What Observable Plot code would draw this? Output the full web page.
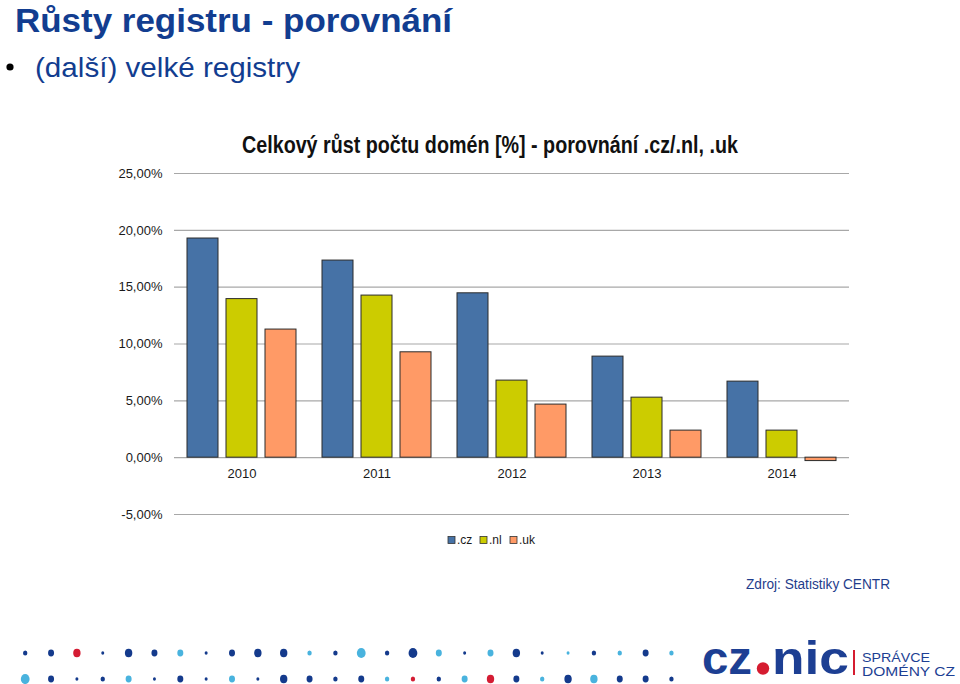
<!DOCTYPE html>
<html>
<head>
<meta charset="utf-8">
<script src="https://cdn.jsdelivr.net/npm/d3@7"></script>
<script src="https://cdn.jsdelivr.net/npm/@observablehq/plot@0.6"></script>
<style>
  html, body { margin: 0; padding: 0; background: #fff; }
  #page { position: relative; width: 960px; height: 684px; overflow: hidden; background: #fff; }
  #chart { position: absolute; left: 0; top: 0; width: 960px; height: 684px; }
  #deco { position: absolute; left: 0; top: 0; }
</style>
</head>
<body>
<div id="page">
  <div id="chart"></div>
  <svg id="deco" width="960" height="684" xmlns="http://www.w3.org/2000/svg"></svg>
</div>
<script>
// ---- data ----
const years = ["2010", "2011", "2012", "2013", "2014"];
const seriesNames = [".cz", ".nl", ".uk"];
const czValues = [19.28, 17.34, 14.46, 8.89, 6.69];
const nlValues = [13.95, 14.26, 6.78, 5.28, 2.38];
const ukValues = [11.27, 9.27, 4.67, 2.38, -0.30];
const yTicks = [-5, 0, 5, 10, 15, 20, 25];
const seriesColors = ["#4672a6", "#cccc00", "#ff9a66"];

const titleText = "Růsty registru - porovnání";
const bulletText = "(další) velké registry";
const chartTitle = "Celkový růst počtu domén [%] - porovnání .cz/.nl, .uk";
const sourceText = "Zdroj: Statistiky CENTR";

// decorative dot strip: size code + colour code
const dotRow1 = ["sd","md","lr","td","ld","md","mb","td","md","ld","ld","sb","sd","xb","sd","xd","mb","td","mb","ld","td","tb","sd","sb","md","sb"];
const dotRow2 = ["xb","md","td","sd","mb","td","md","td","mb","td","ld","md","sd","md","sb","sr","sd","mb","lr","md","sb","ld","lb","md","md","sd"];

// ---- chart ----
const valueSets = [czValues, nlValues, ukValues];
const rows = years.flatMap((yr, i) => seriesNames.map((s, j) => ({year: yr, series: s, value: valueSets[j][i]})));
const fmt = d => d.toFixed(2).replace(".", ",") + "%";
const narrow = "'Liberation Sans Narrow','Liberation Sans',Arial,sans-serif";

const chart = Plot.plot({
  width: 960,
  height: 684,
  marginLeft: 173,
  marginRight: 110,
  marginTop: 173,
  marginBottom: 170,
  style: {background: "transparent", fontFamily: narrow, fontSize: "13px", color: "#1a1a1a", overflow: "visible"},
  fx: {domain: years, padding: 0, axis: null},
  x: {domain: seriesNames, paddingInner: 0.2, paddingOuter: 0.29, axis: null},
  y: {domain: [-5, 25], axis: null},
  color: {domain: seriesNames, range: seriesColors},
  marks: [
    Plot.gridY(yTicks, {stroke: "#a8a8a8", strokeOpacity: 1, strokeWidth: 1.2}),
    Plot.axisY(yTicks, {tickSize: 0, tickPadding: 12, tickFormat: fmt, label: null, fontSize: 13, fill: "#1a1a1a"}),
    Plot.barY(rows, {fx: "year", x: "series", y: "value", fill: "series", stroke: "#2b2b2b", strokeWidth: 1}),
    Plot.text(years, {fx: d => d, y: 0, text: d => d, dy: 16, fontSize: 13, fill: "#1a1a1a"})
  ]
});
document.getElementById("chart").appendChild(chart);

// ---- decorations (titles, legend, source, logo, dots) ----
const deco = d3.select("#deco");
const blue = "#123d90";

deco.append("text").attr("x", 15).attr("y", 32)
  .attr("font-family", "'Liberation Sans',Arial,sans-serif").attr("font-weight", "bold")
  .attr("font-size", 34).attr("fill", blue)
  .attr("textLength", 437).attr("lengthAdjust", "spacingAndGlyphs").text(titleText);

deco.append("circle").attr("cx", 10).attr("cy", 67).attr("r", 3.6).attr("fill", "#000");
deco.append("text").attr("x", 35).attr("y", 77)
  .attr("font-family", "'Liberation Sans',Arial,sans-serif")
  .attr("font-size", 28).attr("fill", blue)
  .attr("textLength", 265).attr("lengthAdjust", "spacingAndGlyphs").text(bulletText);

deco.append("text").attr("x", 242).attr("y", 153)
  .attr("font-family", narrow).attr("font-weight", "bold")
  .attr("font-size", 23).attr("fill", "#111")
  .attr("textLength", 496).attr("lengthAdjust", "spacingAndGlyphs").text(chartTitle);

// legend
const legX = [448, 480, 510];
seriesNames.forEach((s, i) => {
  deco.append("rect").attr("x", legX[i]).attr("y", 536.5).attr("width", 7).attr("height", 7)
    .attr("fill", seriesColors[i]).attr("stroke", "#333").attr("stroke-width", 0.8);
  deco.append("text").attr("x", legX[i] + 9).attr("y", 544)
    .attr("font-family", narrow).attr("font-size", 12).attr("fill", "#1a1a1a").text(s);
});

// source
deco.append("text").attr("x", 746).attr("y", 589)
  .attr("font-family", "'Liberation Sans',Arial,sans-serif")
  .attr("font-size", 14).attr("fill", "#1f3d8c")
  .attr("textLength", 144).attr("lengthAdjust", "spacingAndGlyphs").text(sourceText);

// logo
const logoBlue = "#1d3f93", logoRed = "#d51c30";
deco.append("text").attr("x", 702).attr("y", 674)
  .attr("font-family", "'Liberation Sans',Arial,sans-serif").attr("font-weight", "bold")
  .attr("font-size", 46).attr("fill", logoBlue)
  .attr("textLength", 50).attr("lengthAdjust", "spacingAndGlyphs").text("cz");
deco.append("circle").attr("cx", 763).attr("cy", 668.5).attr("r", 6.2).attr("fill", logoRed);
deco.append("text").attr("x", 772).attr("y", 674)
  .attr("font-family", "'Liberation Sans',Arial,sans-serif").attr("font-weight", "bold")
  .attr("font-size", 46).attr("fill", logoBlue)
  .attr("textLength", 77).attr("lengthAdjust", "spacingAndGlyphs").text("nic");
deco.append("rect").attr("x", 853).attr("y", 650).attr("width", 2).attr("height", 25).attr("fill", logoRed);
deco.append("text").attr("x", 862).attr("y", 662)
  .attr("font-family", narrow).attr("font-size", 13).attr("fill", logoBlue)
  .attr("textLength", 68).attr("lengthAdjust", "spacingAndGlyphs").text("SPRÁVCE");
deco.append("text").attr("x", 862).attr("y", 676)
  .attr("font-family", narrow).attr("font-size", 13).attr("fill", logoBlue)
  .attr("textLength", 93).attr("lengthAdjust", "spacingAndGlyphs").text("DOMÉNY CZ");

// dots
const rSize = {t: 1.5, s: 2.2, m: 3.0, l: 3.7, x: 4.4};
const dCol = {d: "#143a8c", b: "#49b3de", r: "#d41c33"};
[[dotRow1, 653], [dotRow2, 679]].forEach(([row, cy]) => {
  row.forEach((code, i) => {
    const r = rSize[code[0]];
    deco.append("ellipse").attr("cx", 25.2 + i * 25.85).attr("cy", cy)
      .attr("rx", r).attr("ry", r * 1.15).attr("fill", dCol[code[1]]);
  });
});
</script>
</body>
</html>
